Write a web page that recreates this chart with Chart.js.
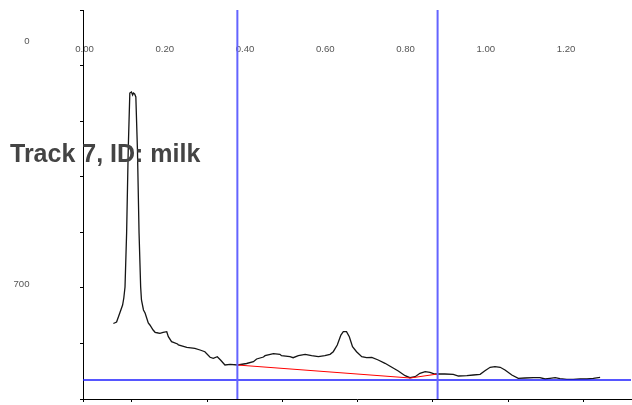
<!DOCTYPE html>
<html>
<head>
<meta charset="utf-8">
<script src="https://cdn.jsdelivr.net/npm/chart.js@4/dist/chart.umd.min.js"></script>
<style>
  html, body { margin: 0; padding: 0; background: #fff; }
  #wrap { width: 632px; height: 405px; position: relative; }
</style>
</head>
<body>
<div id="wrap"><canvas id="chart"></canvas></div>
<script>
// Track scan values (Rf, density above the blue baseline)
var rf = [0.072, 0.080, 0.088, 0.095, 0.098, 0.101, 0.105, 0.109, 0.113,
  0.117, 0.120, 0.122, 0.125, 0.128, 0.132, 0.136, 0.140, 0.142, 0.147,
  0.151, 0.159, 0.163, 0.171, 0.176, 0.184, 0.188, 0.196, 0.205, 0.209, 0.217, 0.232, 0.234,
  0.255, 0.275, 0.288, 0.300, 0.313, 0.321, 0.331, 0.339, 0.350, 0.363, 0.382, 0.404, 0.421,
  0.429, 0.446, 0.450, 0.471, 0.487, 0.491, 0.512, 0.520, 0.533, 0.550, 0.566, 0.583, 0.599,
  0.612, 0.620, 0.630, 0.639, 0.645, 0.653, 0.660, 0.668, 0.678, 0.691, 0.703, 0.716, 0.732,
  0.749, 0.766, 0.782, 0.799, 0.811, 0.824, 0.836, 0.849, 0.861, 0.873, 0.882, 0.898, 0.919,
  0.932, 0.953, 0.969, 0.986, 0.998, 1.011, 1.023, 1.036, 1.048, 1.065, 1.081, 1.098, 1.119,
  1.135, 1.148, 1.160, 1.173, 1.185, 1.202, 1.218, 1.235, 1.252, 1.268, 1.285];
var density = [56.5, 58, 67, 75, 82, 93, 147, 230, 287,
  288, 285, 287, 286, 283, 230, 147, 93, 80, 70,
  67, 57, 55, 50, 47.7, 47, 46.7, 47.7, 48.3, 43.3, 38.3, 36, 35,
  32.7, 31.7, 30, 28.3, 22.7, 21.7, 23.3, 20, 15, 15.7, 15, 16.5, 18.3,
  21, 23, 24.3, 26.3, 25.7, 24.3, 23.3, 22.3, 24.3, 25.7, 24.3, 23.3, 24.3,
  25.7, 28.3, 35, 45, 48.3, 48.3, 43.3, 33.3, 28.3, 23.3, 22.3, 22.7, 20,
  16.7, 12.7, 9, 4.3, 2.3, 3.3, 6.7, 8.3, 7.7, 6, 6, 6, 5.7,
  4, 4.3, 5, 5.7, 9.3, 12.7, 13.3, 12.7, 10, 5, 1.7, 2, 2.3,
  2.3, 1, 1.7, 2.3, 1.3, 0.7, 0.7, 1, 1, 1.7, 2.7];

// lane start / end markers and the red peak baseline
var laneBounds = [0.381, 0.880];
var baseRf = [0.381, 0.812, 0.880];
var baseDensity = [15, 2, 6];

// tick values
var xTickValues = [0, 0.2, 0.4, 0.6, 0.8, 1.0, 1.2];
var yTickValues = [0, 700];
var bottomTickValues = [0, 1, 2, 3, 4, 5, 6];

var titleText = "Track 7, ID: milk";

var X_MIN = -0.0037, X_MAX = 1.362;
var D_MIN = -19, D_MAX = 370;

function pts(xs, ys) {
  var out = [];
  for (var i = 0; i < xs.length; i++) out.push({ x: xs[i], y: ys[i] });
  return out;
}

function series(data, color, width) {
  return {
    data: data,
    xAxisID: "x",
    yAxisID: "yd",
    borderColor: color,
    borderWidth: width,
    fill: false,
    pointRadius: 0,
    tension: 0
  };
}

var datasets = [];

// lane markers
for (var i = 0; i < laneBounds.length; i++) {
  datasets.push(series([{ x: laneBounds[i], y: D_MIN }, { x: laneBounds[i], y: D_MAX }], "rgb(100,100,255)", 2));
}
// baseline
datasets.push(series([{ x: X_MIN, y: 0 }, { x: X_MAX, y: 0 }], "rgb(30,30,255)", 1.5));
// red peak baseline
datasets.push(series(pts(baseRf, baseDensity), "rgb(255,0,0)", 1));
// trace
datasets.push(series(pts(rf, density), "#151515", 1.3));

// title is drawn over the plot, at the left
var overlayTitle = {
  id: "overlayTitle",
  afterDraw: function (chart) {
    var c = chart.ctx;
    c.save();
    c.font = "bold 25px 'Liberation Sans', Arial, sans-serif";
    c.fillStyle = "#444";
    c.textAlign = "left";
    c.textBaseline = "alphabetic";
    c.fillText(titleText, 10, 161.5);
    c.restore();
  }
};

// axes that only carry ticks or labels must not push the plot area around
function noPadding(axis) {
  axis.paddingTop = 0;
  axis.paddingBottom = 0;
  axis.paddingLeft = 0;
  axis.paddingRight = 0;
}

var tickFont = { family: "'Liberation Sans', Arial, sans-serif", size: 9.6 };

var ctx = document.getElementById("chart").getContext("2d");
var chart = new Chart(ctx, {
  type: "line",
  data: { datasets: datasets },
  plugins: [overlayTitle],
  options: {
    responsive: true,
    maintainAspectRatio: false,
    animation: false,
    layout: { padding: { top: 10, left: 10, right: 1, bottom: 0 } },
    plugins: {
      legend: { display: false },
      tooltip: { enabled: false },
      title: { display: false }
    },
    scales: {
      x: {
        type: "linear",
        position: "top",
        min: X_MIN,
        max: X_MAX,
        grid: { display: false, drawTicks: false },
        border: { display: false },
        ticks: {
          mirror: true,
          padding: 33.5,
          maxRotation: 0,
          autoSkip: false,
          color: "#555",
          font: tickFont,
          callback: function (v) { return Number(v).toFixed(2); }
        },
        afterBuildTicks: function (axis) {
          axis.ticks = xTickValues.map(function (v) { return { value: v }; });
        },
        afterFit: function (axis) { axis.height = 0; noPadding(axis); }
      },
      xb: {
        type: "linear",
        position: "bottom",
        min: -0.647,
        max: 6.631,
        grid: { drawOnChartArea: false, drawTicks: true, tickLength: 3, color: "#000" },
        border: { display: true, color: "#000", width: 1 },
        ticks: { display: false },
        afterBuildTicks: function (axis) {
          axis.ticks = [{ value: -0.647 }].concat(bottomTickValues.map(function (v) { return { value: v }; }));
        },
        afterFit: function (axis) { axis.height = 6; noPadding(axis); }
      },
      yl: {
        type: "linear",
        position: "left",
        weight: 1,
        reverse: true,
        min: -91.6,
        max: 1032.3,
        grid: { display: false, drawTicks: false },
        border: { display: false },
        ticks: {
          padding: 53.5,
          color: "#555",
          font: tickFont,
          callback: function (v) { return String(v); }
        },
        afterBuildTicks: function (axis) {
          axis.ticks = yTickValues.map(function (v) { return { value: v }; });
        },
        afterFit: function (axis) { axis.width = 73; noPadding(axis); }
      },
      yt: {
        type: "linear",
        position: "left",
        weight: 0,
        min: 0,
        max: 7,
        grid: { drawOnChartArea: false, drawTicks: true, tickLength: 3, color: "#000" },
        border: { display: true, color: "#000", width: 1 },
        ticks: { display: false, stepSize: 1 },
        afterFit: function (axis) { axis.width = 0; noPadding(axis); }
      },
      yd: {
        type: "linear",
        position: "left",
        display: false,
        min: D_MIN,
        max: D_MAX
      }
    }
  }
});
</script>
</body>
</html>
